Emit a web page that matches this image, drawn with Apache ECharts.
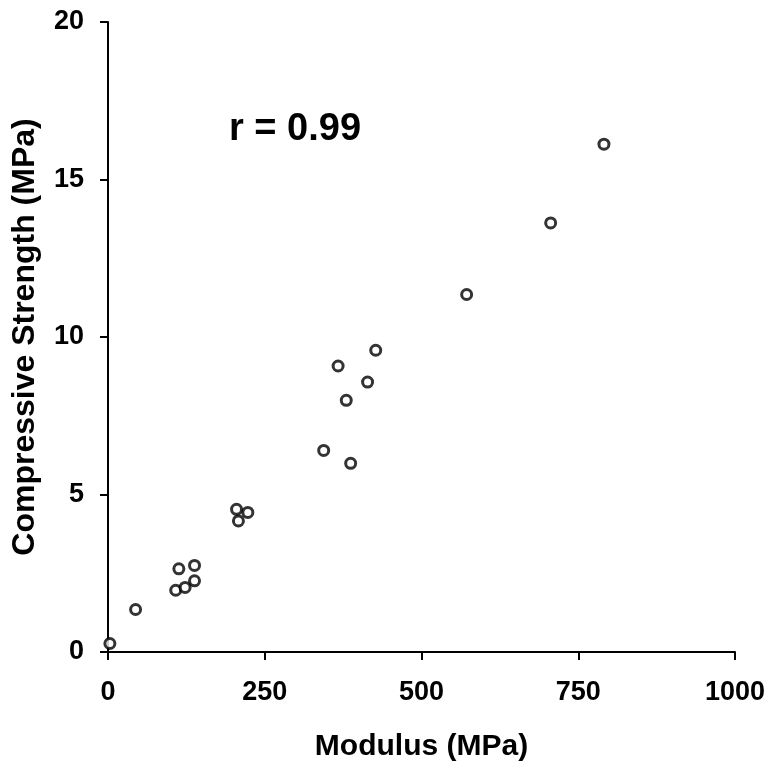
<!DOCTYPE html>
<html>
<head>
<meta charset="utf-8">
<script src="https://cdn.jsdelivr.net/npm/echarts@6/dist/echarts.min.js"></script>
<style>
  html, body { margin: 0; padding: 0; background: #fff; }
  #chart { width: 777px; height: 775px; }
</style>
</head>
<body>
<div id="chart"></div>
<script>
  // modulus (MPa) vs compressive strength (MPa)
  const modulus  = [3, 44, 108, 123, 138, 113, 138, 205, 208, 223, 427, 367, 414, 380, 344, 387, 791, 706, 572];
  const strength = [0.27, 1.35, 1.96, 2.05, 2.26, 2.64, 2.75, 4.53, 4.16, 4.43, 9.58, 9.08, 8.57, 7.99, 6.40, 5.99, 16.12, 13.62, 11.35];
  const xTicks = [0, 250, 500, 750, 1000];
  const yTicks = [0, 5, 10, 15, 20];

  const font = 'Arial, "Liberation Sans", sans-serif';
  let pts = [];
  for (let i = 0; i < modulus.length; i++) {
    pts.push([modulus[i], strength[i]]);
  }

  let myChart = echarts.init(document.getElementById('chart'));
  myChart.setOption({
    backgroundColor: '#fff',
    animation: false,
    title: {
      text: 'r = 0.99',
      left: 224,
      top: 106,
      textStyle: { fontFamily: font, fontSize: 38, fontWeight: 'bold', color: '#000' }
    },
    grid: { left: 108, right: 42, top: 22, bottom: 123 },
    xAxis: {
      type: 'value',
      min: xTicks[0],
      max: xTicks[xTicks.length - 1],
      interval: 250,
      name: 'Modulus (MPa)',
      nameLocation: 'middle',
      nameGap: 80,
      nameTextStyle: { fontFamily: font, fontSize: 30, fontWeight: 'bold', color: '#000' },
      axisLine: { lineStyle: { color: '#000', width: 2 } },
      axisTick: { show: true, length: 8, lineStyle: { color: '#000', width: 2 } },
      axisLabel: {
        fontFamily: font, fontSize: 27, fontWeight: 'bold', color: '#000', margin: 27,
        formatter: function (v) { return String(v); }
      },
      splitLine: { show: false }
    },
    yAxis: {
      type: 'value',
      min: yTicks[0],
      max: yTicks[yTicks.length - 1],
      interval: 5,
      name: 'Compressive Strength (MPa)',
      nameLocation: 'middle',
      nameGap: 67,
      nameTextStyle: { fontFamily: font, fontSize: 32, fontWeight: 'bold', color: '#000' },
      axisLine: { show: true, lineStyle: { color: '#000', width: 2 } },
      axisTick: { show: true, length: 8, lineStyle: { color: '#000', width: 2 } },
      axisLabel: { fontFamily: font, fontSize: 27, fontWeight: 'bold', color: '#000', margin: 24 },
      splitLine: { show: false }
    },
    series: [
      {
        type: 'scatter',
        data: pts,
        symbol: 'circle',
        symbolSize: 10,
        itemStyle: { color: '#fff', borderColor: '#000', borderWidth: 3 }
      }
    ]
  });
</script>
</body>
</html>
